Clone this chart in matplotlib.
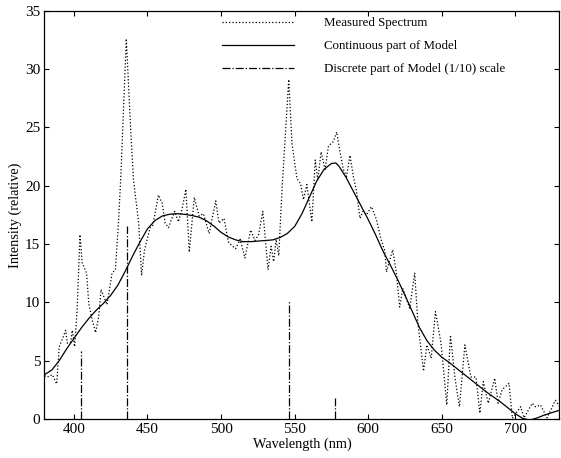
import matplotlib
matplotlib.use('Agg')
import matplotlib.pyplot as plt

plt.rcParams['font.family'] = ['Liberation Serif', 'DejaVu Serif']
plt.rcParams['font.size'] = 9.3

# Measured spectrum (nm, relative intensity)
meas_x = [380, 382, 385.3, 388.3, 390, 392, 394.4, 395.5, 397.8, 398.9, 400.5, 402.2,
          404.1, 405.6, 408.6, 410.1, 412.4, 414.7, 416.9, 418.4, 420.3, 422.5, 425.9,
          428.2, 430.4, 432, 435.6, 438.7, 440.5, 444, 446, 448, 451.8, 453.6, 457.4,
          460, 462, 464.3, 466, 468.5, 471, 473.5, 476.1, 478.4, 481.8, 485.1, 488,
          491.9, 496.4, 498.6, 502, 504.9, 507, 509.9, 513, 516.2, 520.1, 523, 525.5,
          528.4, 531.9, 534, 535.8, 537.4, 539.2, 541.4, 546, 548.2, 551.6, 554, 556,
          558.3, 561.7, 564, 565.7, 568, 570.7, 573, 576.4, 578.6, 580.4, 583.1, 585.3,
          587.6, 589.9, 592.1, 594.4, 596.5, 598.8, 602.2, 605.6, 608.5, 611.3, 612.4,
          616.6, 619.1, 621.4, 623.5, 625.9, 628.2, 631.6, 633.8, 637.6, 639.9, 642.8,
          645.7, 649.5, 653.4, 655.9, 659, 662, 665.7, 669.8, 673.2, 675.9, 678.2,
          681.6, 686, 688.3, 691, 695.7, 698, 703.6, 705.9, 711.5, 713.7, 717.1, 721.6,
          727.2, 730]
meas_y = [3.7, 3.6, 3.8, 3.0, 6.2, 6.8, 7.6, 6.5, 6.6, 7.6, 6.2, 9.4,
          15.8, 13.4, 12.5, 9.9, 8.5, 7.4, 8.8, 11.1, 10.5, 9.8, 12.5,
          12.8, 17.1, 21.1, 32.6, 24.5, 20.5, 16.8, 12.3, 14.5, 16.4, 16.6, 19.2,
          18.5, 16.8, 16.4, 17.0, 17.8, 16.9, 18.0, 19.7, 14.3, 19.0, 17.4, 17.6,
          15.9, 18.7, 16.8, 17.2, 15.2, 14.9, 14.6, 15.4, 13.8, 16.2, 15.3, 15.8,
          17.8, 12.8, 14.8, 13.5, 15.4, 14.0, 19.6, 29.1, 23.6, 20.6, 20.2, 18.8,
          20.1, 16.9, 22.2, 20.5, 22.9, 21.4, 23.4, 23.8, 24.6, 23.2, 21.4, 20.8,
          22.6, 20.8, 19.5, 17.2, 17.8, 17.5, 18.2, 17.1, 15.5, 14.4, 12.6,
          14.5, 12.6, 9.6, 11.2, 10.35, 9.5, 12.5, 8.2, 4.1, 6.35, 5.2,
          9.2, 6.5, 1.2, 7.2, 3.5, 1.05, 6.35, 3.6, 3.6, 0.5, 3.2,
          1.35, 3.5, 1.35, 2.5, 3.06, 0.06, 1.05, 0.1, 1.35, 1.05, 1.2, 0.1,
          1.6, 1.1]

# Continuous part of model
cont_x = [380, 385, 390, 395, 400, 405, 410, 415, 420, 425, 430, 435, 440, 445, 450,
          455, 460, 465, 470, 475, 480, 485, 490, 495, 500, 505, 510, 515, 520, 525,
          530, 535, 540, 545, 550, 555, 560, 565, 570, 575, 578, 580, 585, 590, 595,
          600, 605, 610, 615, 620, 625, 630, 635, 640, 645, 650, 655, 660, 665, 670,
          675, 680, 685, 690, 695, 700, 705, 710, 715, 720, 725, 730]
cont_y = [3.8, 4.2, 5.0, 6.0, 6.9, 7.8, 8.6, 9.3, 9.9, 10.6, 11.5, 12.7, 14.0, 15.2, 16.3,
          17.0, 17.4, 17.55, 17.6, 17.55, 17.45, 17.3, 17.0, 16.55, 16.0, 15.6, 15.35, 15.2,
          15.2, 15.25, 15.3, 15.35, 15.55, 15.9, 16.5, 17.6, 19.0, 20.4, 21.4, 21.9, 21.95,
          21.7, 20.7, 19.5, 18.3, 17.1, 15.8, 14.4, 13.2, 11.95, 10.6, 9.2, 7.8, 6.7, 5.9,
          5.3, 4.85, 4.35, 3.85, 3.35, 2.85, 2.35, 1.9, 1.45, 0.95, 0.45, 0.05, -0.1, 0.1,
          0.35, 0.55, 0.75]

# Discrete part of model (1/10 scale)
disc_x = [404.7, 435.8, 546.1, 577.5]
disc_y = [5.86, 16.55, 10.1, 1.8]

fig = plt.figure(figsize=(5.61, 4.58), dpi=100)
ax = fig.add_axes([0.0793, 0.0852, 0.918, 0.8914])

ax.plot(meas_x, meas_y, ':', color='k', lw=0.9, label='Measured Spectrum')
ax.plot(cont_x, cont_y, '-', color='k', lw=0.9, label='Continuous part of Model')
ax.vlines(disc_x, 0, disc_y, colors='k', linestyles='-.', lw=0.9,
          label='Discrete part of Model (1/10) scale')

ax.set_xlim(380, 730)
ax.set_ylim(0, 35)
ax.set_xticks(range(400, 701, 50))
ax.set_yticks(range(0, 36, 5))
ax.tick_params(direction='in', length=3.5, width=0.8, top=True, right=True, pad=3,
               labelsize=11)
for s in ax.spines.values():
    s.set_linewidth(0.9)

ax.set_xlabel('Wavelength (nm)', fontsize=10.3, labelpad=1)
ax.set_ylabel('Intensity (relative)', fontsize=10.3, labelpad=2)

ax.legend(loc='upper left', bbox_to_anchor=(222 / 561, 1 - 17 / 458),
          bbox_transform=fig.transFigure, frameon=False, borderpad=0,
          handlelength=5.6, handletextpad=2.3, labelspacing=0.85, borderaxespad=0)

fig.savefig('out.png', dpi=100)
